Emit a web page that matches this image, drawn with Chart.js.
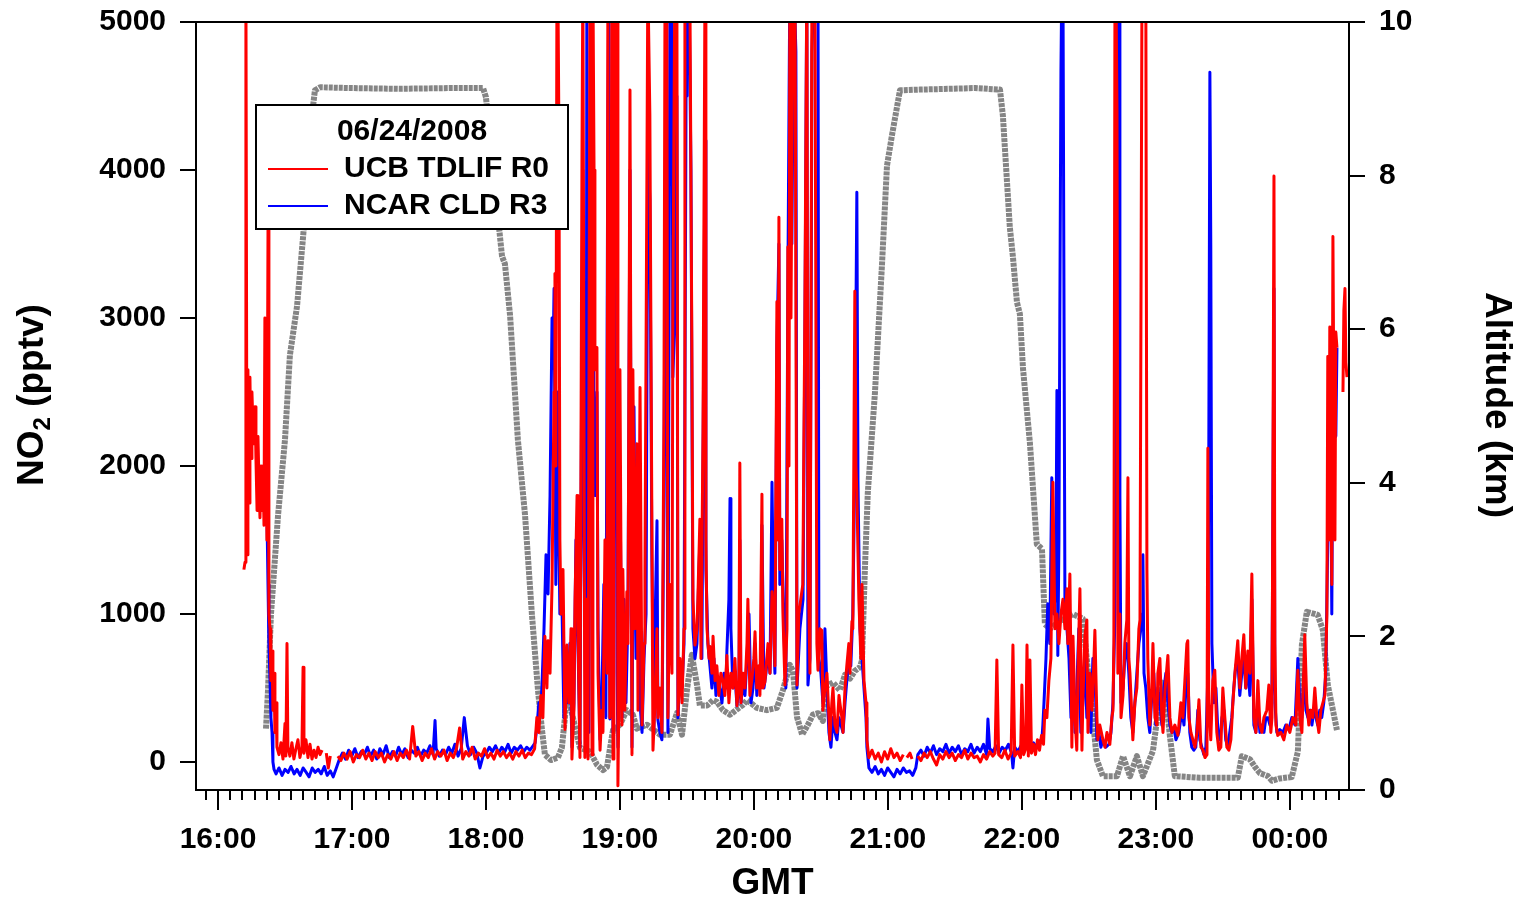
<!DOCTYPE html>
<html>
<head>
<meta charset="utf-8">
<title>NO2 and altitude, 06/24/2008</title>
<script src="https://cdn.jsdelivr.net/npm/chart.js@4.4.1/dist/chart.umd.min.js"></script>
<style>
  html, body { margin: 0; padding: 0; background: #fff; }
  #wrap { position: relative; width: 1517px; height: 902px; }
</style>
</head>
<body>
<div id="wrap"><canvas id="no2Chart" width="1517" height="902"></canvas></div>
<script>
// Time is minutes after 16:00 GMT on 06/24/2008.

// UCB TDLIF R0 NO2 (pptv); null = data gap
const ucbTime = [
  11.6, 12.1, 12.5, 13.0, 13.4, 13.9, 14.3, 14.8, 15.2, 15.7,
  16.1, 16.6, 17.0, 17.5, 17.9, 18.4, 18.8, 19.3, 19.7, 20.2,
  20.6, 21.0, 21.5, 21.9, 22.4, 22.8, 23.3, 23.7, 24.2, 24.6,
  25.1, 25.5, 26.0, 26.4, 27.3, 28.2, 29.1, 30.0, 30.4, 30.9,
  31.3, 32.2, 33.1, 34.0, 34.9, 35.8, 36.7, 37.6, 38.1, 38.5,
  39.4, 40.3, 41.2, 42.1, 43.0, 43.9, 44.8, 45.7, 46.6, 47.0,
  48.5, 49.4, 50.3, 51.0, 53.7, 55.0, 56.4, 57.8, 59.2, 60.6,
  62.0, 63.4, 64.8, 66.2, 67.6, 69.0, 70.4, 71.8, 73.2, 74.6,
  76.0, 77.4, 78.8, 80.2, 81.6, 83.0, 84.4, 85.8, 87.2, 88.6,
  90.0, 91.4, 92.8, 94.2, 95.6, 97.0, 98.4, 99.8, 101.2, 102.6,
  104.0, 105.4, 106.8, 108.2, 109.6, 111.0, 112.4, 113.8, 115.2, 116.6,
  118.0, 119.4, 120.8, 122.2, 123.6, 125.0, 126.4, 127.8, 129.2, 130.6,
  132.0, 133.4, 134.8, 136.2, 137.6, 139.0, 140.4, 141.8, 142.8, 143.7,
  144.6, 145.5, 146.4, 147.3, 147.8, 148.7, 149.6, 150.5, 150.9, 151.3,
  151.8, 152.2, 152.7, 153.1, 153.6, 154.5, 155.4, 156.3, 157.2, 158.1,
  158.5, 159.4, 159.9, 160.8, 161.2, 162.1, 163.0, 163.4, 164.3, 165.2,
  165.7, 166.6, 167.0, 167.5, 167.9, 168.4, 168.8, 169.7, 170.2, 171.1,
  171.9, 172.4, 173.3, 174.2, 174.6, 175.1, 175.5, 176.4, 176.9, 177.3,
  177.8, 178.7, 179.1, 179.6, 180.0, 180.9, 181.3, 182.2, 183.1, 183.6,
  184.5, 185.4, 185.8, 186.7, 187.6, 188.1, 189.0, 189.9, 190.8, 191.2,
  192.1, 192.5, 193.4, 194.3, 194.8, 195.7, 196.6, 197.0, 197.9, 198.8,
  199.7, 200.2, 201.0, 201.5, 202.4, 203.3, 203.7, 204.6, 205.5, 206.0,
  206.9, 207.8, 208.7, 209.1, 210.0, 210.9, 211.3, 212.2, 212.7, 213.6,
  214.5, 214.9, 215.8, 216.3, 217.2, 218.1, 218.5, 219.0, 219.9, 220.3,
  221.2, 221.7, 222.6, 223.4, 224.3, 225.2, 226.1, 227.0, 227.9, 228.8,
  229.7, 230.6, 231.5, 232.4, 233.3, 233.7, 234.2, 235.1, 236.0, 236.9,
  237.3, 238.2, 239.1, 240.0, 240.5, 241.3, 242.2, 242.7, 243.6, 244.0,
  244.9, 245.8, 246.3, 247.2, 248.1, 249.0, 249.4, 250.3, 250.7, 251.2,
  251.6, 252.5, 253.0, 253.9, 254.8, 255.2, 255.7, 256.1, 256.6, 257.5,
  258.4, 259.3, 260.1, 261.9, 262.8, 263.7, 264.2, 265.1, 266.0, 266.9,
  267.3, 268.2, 268.7, 269.6, 270.4, 270.9, 271.8, 272.7, 273.6, 274.0,
  274.9, 275.4, 276.3, 277.2, 278.1, 278.5, 279.4, 279.9, 280.8, 281.6,
  282.5, 283.0, 283.9, 284.3, 285.2, 285.7, 286.1, 287.0, 287.9, 288.4,
  289.3, 290.2, 290.6, 291.5, 292.9, 294.3, 295.7, 297.1, 298.5, 299.9,
  301.3, 302.7, 304.1, 305.5, 306.9, 307.6, 308.5, 309.9, 310.8, 311.6,
  313.4, 314.8, 316.2, 317.6, 319.0, 320.4, 321.8, 323.2, 324.6, 326.0,
  327.4, 328.8, 330.2, 331.6, 333.0, 334.4, 335.8, 337.2, 338.6, 340.0,
  341.4, 342.8, 344.2, 345.6, 347.0, 348.0, 348.8, 349.6, 351.0, 352.4,
  353.8, 355.2, 356.0, 356.8, 358.2, 359.4, 360.0, 360.8, 361.7, 362.3,
  362.9, 363.6, 364.3, 365.2, 366.1, 367.0, 367.9, 368.8, 369.7, 370.3,
  371.2, 372.1, 373.0, 373.9, 374.8, 375.7, 376.6, 377.5, 378.4, 379.3,
  380.2, 380.6, 381.5, 382.4, 382.9, 383.8, 384.6, 385.1, 386.0, 386.9,
  387.3, 388.2, 389.1, 389.6, 390.5, 391.4, 392.3, 392.7, 393.6, 394.0,
  394.9, 396.3, 397.2, 398.1, 399.4, 400.3, 400.8, 401.2, 401.7, 402.1,
  402.6, 403.0, 403.9, 404.4, 405.3, 406.1, 407.0, 407.5, 407.9, 408.4,
  409.3, 409.7, 410.6, 411.5, 412.4, 412.9, 413.8, 414.7, 415.5, 416.0,
  416.4, 417.3, 418.2, 418.7, 419.6, 420.5, 420.9, 421.8, 422.7, 423.2,
  424.1, 425.4, 426.3, 427.2, 428.5, 429.9, 431.2, 432.1, 433.0, 433.9,
  434.3, 434.8, 435.7, 436.6, 437.5, 438.4, 439.3, 440.2, 441.1, 442.0,
  442.9, 443.3, 443.7, 444.6, 445.5, 446.4, 447.3, 448.2, 449.1, 450.0,
  450.9, 451.8, 452.7, 453.6, 454.5, 455.4, 456.7, 457.6, 458.5, 459.4,
  460.3, 461.2, 462.1, 463.0, 463.9, 464.8, 465.7, 466.6, 467.5, 468.4,
  469.7, 470.6, 471.5, 472.0, 472.4, 472.9, 473.3, 473.8, 474.6, 476.0,
  477.3, 478.7, 480.0, 481.4, 482.7, 483.6, 484.5, 485.4, 486.7, 487.6,
  488.5, 489.4, 490.3, 491.2, 492.1, 493.0, 493.9, 494.8, 495.7, 496.6,
  497.0, 497.5, 497.9, 498.4, 498.8, 499.3, 499.7, 500.2, 500.6, 501.1,
  501.5, 503.8, 504.2, 504.7, 505.1, 505.6
];
const ucbNO2 = [
  1300, 1350, 5300, 1400, 2650, 1750, 2600, 2050, 2500, 2250,
  2150, 2400, 2050, 1700, 2200, 1850, 1650, 2000, 1700, 1950,
  1600, 3000, 2500, 1500, 3600, 1000, 900, 550, 750, 350,
  600, 200, 400, 100, 50, 130, 20, 260, 40, 800,
  100, 40, 130, 20, 90, 150, 30, 100, 640, 60,
  150, 30, 120, 20, 80, 30, 100, 50, 80, null,
  60, -40, 40, null, 40, 10, 60, 20, 70, 0,
  50, 30, 80, 20, 60, 10, 70, 30, 60, 0,
  50, 20, 70, 10, 60, 30, 80, 20, 240, 40,
  70, 10, 60, 30, 90, 20, 70, 40, 80, 10,
  60, 30, 90, 230, 20, 70, 40, 100, 20, 60,
  40, 90, 30, 60, 20, 80, 40, 70, 30, 60,
  20, 70, 40, 80, 30, 60, 50, 90, 300, 200,
  450, 300, 850, 500, 820, 600, 1200, 2500, 3300, 2000,
  5300, 5300, 4200, 1500, 1000, 1300, 220, 790, 400, 900,
  20, 350, 1100, 1800, 900, 30, 4100, 5300, 30, 1100,
  20, 5300, 3000, 50, 5300, 4000, 2650, 2800, 600, 80,
  350, 200, 1500, 600, 5300, 1500, 300, 5300, 20, 2000,
  5300, 5300, -160, 500, 2650, 250, 1300, 350, 1150, 800,
  4540, 50, 2650, 900, 2150, 350, 2530, 250, 800, 1270,
  4030, 5300, 4370, 1640, 80, 400, 900, 300, 500, 200,
  2290, 5300, 5300, 300, 1200, 600, 3000, 5300, 5300, 320,
  700, 400, 900, 5300, 5300, 5300, 5300, 2860, 1100, 790,
  900, 1100, 1640, 700, 2220, 5300, 1500, 900, 700, 780,
  600, 850, 550, 650, 450, 600, 550, 450, 720, 400,
  600, 500, 700, 380, 550, 2020, 400, 600, 500, 800,
  1100, 450, 560, 700, 880, 500, 650, 450, 1810, 500,
  540, 700, 800, 600, 1150, 900, 650, 3110, 1500, 3680,
  1300, 1640, 1000, 520, 900, 3480, 2000, 5300, 3000, 5300,
  5300, 520, 1000, 1200, 3000, 5300, 1440, 600, 5300, 5300,
  5300, 800, 620, 900, 890, 350, 500, 600, 300, 150,
  400, 500, 250, 200, 450, 400, 300, 200, 500, 650,
  800, 600, 950, 900, 3180, 2000, 1820, 1100, 700, 1200,
  550, 400, 150, 30, 80, 20, 60, 0, 70, 20,
  90, 30, 60, 10, 50, null, 30, 60, 20, null,
  40, 10, 60, 30, 70, 20, -20, 50, 20, 70,
  30, 60, 10, 50, 30, 80, 20, 60, 30, 40,
  0, 50, 20, 70, 40, 60, 690, 50, 30, 80,
  20, 60, 790, 40, 70, 30, 520, 50, 90, 790,
  40, 690, 60, 120, 50, 150, 80, 180, 120, 350,
  300, 550, 700, 1890, 900, 1000, 800, 1000, 1100, 900,
  1170, 800, 1270, 100, 850, 300, 80, 600, 1170, 80,
  400, 850, 960, 200, 600, 350, 700, 890, 300, 150,
  250, 150, 100, 200, 120, 300, 350, 800, 5300, 5300,
  4400, 600, 1000, 300, 450, 800, 960, 1920, 700, 600,
  300, 150, 400, 500, 900, 960, 5300, 5300, 5300, 1300,
  700, 250, 500, 800, 300, 250, 600, 700, 300, 200,
  490, 720, 300, 200, 250, 180, 400, 300, 550, 800,
  820, 300, 200, 150, 100, 200, 420, 100, 80, 30,
  50, 2120, 400, 150, 550, 620, 200, 80, 100, 500,
  300, 100, 80, 150, 400, 600, 820, 500, 700, 860,
  500, 750, 600, 1270, 300, 200, 550, 250, 200, 300,
  350, 520, 200, 300, 1800, 3960, 800, 250, 180, 200,
  150, 250, 200, 300, 250, 620, 300, 200, 860, 400,
  250, 350, 300, 500, 300, 200, 350, 400, 450, 1000,
  2740, 1500, 2940, 2000, 1200, 3550, 2500, 1500, 2905, 2800,
  null, 2500, 3050, 3200, 2700, 2600
];

// NCAR CLD R3 NO2 (pptv)
const ncarTime = [
  21.9, 22.4, 22.8, 23.3, 23.7, 24.2, 24.6, 25.1, 26.0, 27.3,
  28.7, 30.0, 31.4, 32.7, 34.1, 35.4, 36.8, 38.1, 39.5, 40.8,
  42.2, 43.5, 44.9, 46.2, 47.6, 48.9, 50.3, 51.6, 53.0, 54.4,
  55.7, 57.1, 58.5, 59.9, 61.3, 62.7, 64.1, 65.5, 66.9, 68.3,
  69.7, 71.1, 72.5, 73.9, 75.3, 76.7, 78.1, 79.5, 80.9, 82.3,
  83.7, 85.1, 86.5, 87.9, 89.3, 90.7, 92.1, 93.5, 94.9, 96.3,
  97.2, 97.7, 99.1, 100.5, 101.9, 103.3, 104.7, 106.1, 107.5, 108.9,
  110.3, 111.7, 113.1, 114.5, 115.9, 117.3, 118.7, 120.1, 121.5, 122.9,
  124.3, 125.7, 127.1, 128.5, 129.9, 131.3, 132.7, 134.1, 135.5, 136.9,
  138.3, 139.7, 141.1, 142.0, 142.9, 143.7, 144.6, 145.1, 146.0, 146.9,
  147.8, 148.7, 149.6, 150.0, 150.5, 150.9, 151.3, 152.2, 152.7, 153.1,
  154.0, 154.9, 155.8, 156.7, 157.6, 158.5, 159.4, 160.3, 161.2, 162.1,
  163.0, 163.4, 163.9, 164.8, 165.2, 165.7, 166.1, 166.6, 167.5, 167.9,
  168.4, 168.8, 169.7, 170.2, 171.1, 171.9, 172.8, 173.7, 174.6, 175.1,
  175.5, 176.4, 176.9, 177.8, 178.2, 178.7, 179.1, 180.0, 180.9, 181.8,
  182.7, 183.6, 184.5, 185.4, 186.3, 187.2, 188.1, 189.0, 189.9, 190.8,
  191.7, 192.5, 193.4, 194.3, 195.2, 195.7, 196.6, 197.0, 197.9, 198.8,
  199.7, 200.6, 201.5, 202.4, 203.3, 203.7, 204.6, 205.5, 206.0, 206.9,
  207.8, 208.7, 209.6, 210.0, 210.9, 211.8, 212.2, 212.7, 213.6, 214.5,
  215.4, 215.8, 216.7, 217.2, 218.1, 218.5, 219.4, 220.3, 221.2, 222.1,
  223.0, 223.9, 224.8, 225.7, 226.6, 227.5, 227.9, 228.8, 229.3, 229.7,
  230.6, 231.5, 232.4, 233.3, 233.7, 234.2, 235.1, 236.0, 236.9, 237.8,
  238.7, 239.6, 240.5, 241.3, 242.2, 243.1, 243.6, 244.5, 245.4, 246.3,
  247.2, 248.1, 249.0, 249.4, 250.3, 251.2, 251.6, 252.5, 253.4, 254.3,
  255.2, 256.1, 257.0, 257.9, 258.8, 259.3, 260.6, 262.0, 262.8, 263.7,
  264.2, 265.1, 266.0, 266.9, 267.8, 268.7, 269.1, 270.0, 270.9, 271.8,
  272.7, 273.6, 274.5, 275.4, 276.3, 277.2, 278.1, 279.0, 279.9, 280.8,
  281.6, 282.5, 283.4, 284.3, 285.2, 286.1, 286.6, 287.5, 288.4, 289.3,
  290.2, 290.6, 291.5, 292.9, 294.3, 295.7, 297.1, 298.5, 299.9, 301.3,
  302.7, 304.1, 305.5, 306.9, 308.3, 309.7, 311.1, 312.5, 313.4, 314.8,
  316.2, 317.6, 319.0, 320.4, 321.8, 323.2, 324.6, 326.0, 327.4, 328.8,
  330.2, 331.6, 333.0, 334.4, 335.8, 337.2, 338.6, 340.0, 341.4, 342.8,
  344.2, 344.8, 345.6, 347.0, 348.4, 349.8, 351.2, 352.6, 354.0, 355.4,
  356.0, 356.8, 358.2, 359.6, 361.0, 362.4, 363.8, 365.2, 366.6, 368.0,
  369.0, 369.4, 369.9, 370.8, 371.6, 372.5, 373.4, 374.3, 375.2, 375.7,
  376.1, 376.6, 377.0, 377.5, 377.9, 378.4, 378.8, 379.3, 380.2, 381.1,
  382.0, 382.9, 383.8, 384.6, 385.5, 386.4, 387.3, 388.2, 389.1, 390.0,
  390.9, 391.8, 392.7, 393.6, 394.5, 395.4, 396.3, 397.6, 399.0, 399.9,
  400.8, 401.7, 402.1, 402.6, 403.0, 403.5, 403.9, 404.4, 405.3, 406.1,
  407.0, 407.9, 408.8, 409.7, 410.6, 411.5, 412.4, 413.3, 413.8, 414.2,
  414.7, 415.5, 416.4, 417.3, 418.2, 419.1, 420.0, 420.9, 421.8, 422.7,
  423.6, 424.5, 425.4, 426.3, 427.2, 428.1, 429.0, 430.3, 431.7, 432.6,
  433.5, 434.3, 435.2, 436.1, 437.0, 437.9, 438.8, 439.7, 440.6, 441.5,
  442.4, 443.3, 443.7, 444.2, 444.6, 445.1, 446.0, 446.9, 447.8, 448.7,
  449.6, 450.5, 451.3, 452.2, 453.1, 454.0, 454.9, 455.8, 456.7, 457.6,
  458.5, 459.4, 460.3, 461.2, 462.1, 463.0, 463.9, 464.8, 465.7, 466.6,
  467.5, 468.4, 469.3, 470.2, 471.1, 472.0, 472.4, 472.9, 473.3, 474.2,
  475.5, 476.9, 478.2, 479.6, 480.9, 482.3, 483.6, 484.5, 485.4, 486.3,
  487.2, 488.1, 489.0, 489.9, 490.8, 491.7, 492.5, 493.4, 494.3, 495.2,
  496.1, 497.0, 497.5, 497.9, 498.4, 498.8, 499.3, 499.7, 500.2, 500.6,
  501.1
];
const ncarNO2 = [
  1700, 1200, 800, 550, 300, 200, 0, -50, -80, -40,
  -90, -50, -70, -30, -80, -50, -90, -40, -70, -100,
  -40, -70, -50, -80, -30, -90, -60, -100, -40, 20,
  60, 20, 80, 40, 90, 30, 70, 50, 100, 40,
  80, 20, 90, 50, 110, 30, 70, 40, 100, 50,
  90, 30, 80, 60, 100, 40, 80, 60, 110, 50,
  280, 90, 40, 80, 50, 100, 60, 120, 40, 90,
  300, 110, 50, 100, 60, -40, 40, 60, 100, 70,
  110, 60, 100, 70, 120, 60, 100, 80, 110, 70,
  100, 80, 110, 130, 250, 400, 350, 520, 900, 1400,
  1135, 1800, 3000, 2660, 3200, 2270, 1200, 2500, 1500, 1000,
  1100, 300, 700, 400, 800, 100, 400, 1500, 800, 100,
  3000, 4000, 1500, 100, 5300, 1000, 200, 3400, 3280, 4500,
  2000, 1800, 2500, 900, 150, 400, 1200, 300, 4430, 5300,
  290, 4000, 200, 5300, 3000, 600, 100, 2000, 300, 1100,
  400, 1000, 4000, 100, 2400, 700, 1800, 400, 200, 700,
  1000, 4200, 3800, 1400, 200, 900, 1630, 285, 200, 150,
  1800, 4800, 200, 5300, 5300, 2600, 3000, 4500, 300, 600,
  500, 800, 4500, 5300, 5300, 4000, 2600, 900, 700, 800,
  1300, 1500, 700, 2000, 4200, 1300, 800, 650, 500, 700,
  450, 550, 490, 400, 600, 500, 750, 1100, 1780, 900,
  500, 600, 380, 500, 1500, 400, 550, 450, 700, 1000,
  400, 500, 800, 450, 600, 500, 1600, 500, 600, 750,
  600, 1890, 800, 600, 2800, 3500, 1200, 1500, 900, 500,
  3200, 5300, 3500, 5300, 4800, 500, 900, 1100, 2800, 5300,
  520, 700, 4800, 5300, 5300, 5300, 700, 600, 400, 900,
  500, 200, 100, 300, 200, 150, 300, 250, 200, 400,
  550, 700, 650, 1000, 2000, 3850, 1900, 900, 700, 500,
  300, 100, -40, -70, -30, -80, -50, -90, -40, -70,
  -100, -50, -80, -40, -70, -60, -90, -40, 50, 80,
  40, 100, 60, 110, 50, 90, 70, 120, 60, 100,
  70, 110, 50, 90, 70, 120, 60, 100, 70, 120,
  50, 290, 90, 70, 110, 60, 100, 80, 120, 60,
  -40, 100, 70, 110, 80, 120, 90, 130, 100, 140,
  160, 250, 400, 700, 1070, 800, 1920, 1000, 1200, 2510,
  720, 1500, 3000, 4660, 5300, 5300, 3400, 1000, 900, 700,
  300, 600, 200, 500, 900, 200, 400, 700, 300, 500,
  200, 700, 600, 150, 200, 100, 150, 100, 120, 200,
  400, 1000, 2000, 5300, 5300, 5300, 1800, 400, 500, 700,
  800, 600, 300, 200, 400, 600, 800, 900, 1000, 1400,
  600, 500, 300, 200, 450, 600, 250, 500, 400, 250,
  500, 600, 400, 250, 200, 230, 150, 200, 350, 250,
  500, 600, 200, 100, 80, 100, 350, 150, 100, 50,
  100, 600, 2000, 4660, 3500, 800, 400, 500, 200, 150,
  300, 350, 150, 100, 200, 300, 500, 650, 700, 450,
  600, 700, 500, 650, 450, 1100, 250, 200, 400, 200,
  250, 200, 300, 300, 250, 500, 1600, 3200, 400, 200,
  220, 200, 250, 220, 300, 250, 700, 400, 300, 600,
  350, 300, 350, 250, 350, 300, 250, 350, 300, 400,
  600, 1500, 2400, 2700, 1800, 1000, 2500, 1700, 2400, 2200,
  2800
];

// Aircraft altitude (km)
const altTime = [
  21.5, 22.4, 23.7, 26.9, 30.0, 32.2, 35.4, 38.1, 40.3, 42.1,
  43.4, 45.7, 59.1, 81.5, 103.9, 118.7, 120.0, 126.3, 127.2, 128.5,
  130.8, 134.3, 137.5, 140.6, 143.3, 145.1, 146.4, 149.1, 152.2, 154.0,
  155.4, 156.3, 158.5, 162.1, 166.6, 169.7, 172.4, 174.2, 176.9, 180.0,
  183.1, 185.8, 187.6, 192.1, 197.9, 202.4, 205.5, 207.8, 210.0, 212.2,
  214.5, 215.8, 219.0, 221.7, 223.4, 226.1, 229.3, 232.4, 235.1, 236.9,
  239.6, 241.3, 245.8, 250.3, 253.0, 256.1, 257.5, 259.3, 261.6, 264.2,
  266.4, 268.7, 270.9, 272.3, 275.4, 278.5, 280.8, 283.0, 285.2, 287.5,
  288.4, 289.7, 291.0, 294.2, 297.3, 299.6, 301.8, 305.4, 314.3, 327.8,
  339.0, 350.2, 351.5, 354.6, 356.0, 357.8, 359.1, 360.5, 363.6, 366.7,
  369.0, 370.3, 372.6, 377.0, 382.9, 387.3, 389.1, 391.4, 393.6, 396.3,
  402.6, 405.3, 408.4, 411.5, 414.2, 418.7, 420.9, 422.7, 424.5, 426.3,
  428.5, 439.7, 456.7, 458.5, 462.1, 464.4, 466.6, 470.2, 472.0, 475.5,
  480.9, 483.6, 485.4, 487.6, 492.5, 494.8, 497.0, 501.1
];
const altKm = [
  0.80, 1.3, 2.28, 3.58, 4.56, 5.66, 6.3, 7.2, 8.0, 8.79,
  9.11, 9.15, 9.14, 9.13, 9.14, 9.14, 9.02, 7.2, 6.95, 6.85,
  6.18, 4.56, 3.58, 2.28, 1.30, 0.78, 0.46, 0.39, 0.42, 0.55,
  0.95, 1.3, 1.0, 0.55, 0.5, 0.33, 0.26, 0.3, 0.78, 0.85,
  1.04, 0.98, 0.8, 0.85, 0.72, 0.72, 1.0, 0.72, 1.3, 1.76,
  1.37, 1.1, 1.1, 1.17, 1.15, 1.04, 0.98, 1.05, 1.11, 1.17,
  1.11, 1.07, 1.04, 1.07, 1.3, 1.63, 1.55, 0.95, 0.72, 0.85,
  0.98, 1.0, 0.9, 1.35, 1.4, 1.3, 1.5, 1.45, 1.55, 1.6,
  1.69, 2.88, 3.87, 5.17, 6.81, 8.13, 8.52, 9.11, 9.12, 9.13,
  9.14, 9.12, 8.78, 7.33, 6.94, 6.35, 6.2, 5.49, 4.52, 3.2,
  3.14, 2.16, 2.1, 2.2, 2.29, 2.23, 1.7, 1.04, 0.39, 0.18,
  0.18, 0.44, 0.18, 0.44, 0.18, 0.51, 1.0, 1.4, 1.2, 0.7,
  0.18, 0.16, 0.16, 0.44, 0.4, 0.3, 0.22, 0.18, 0.12, 0.15,
  0.17, 0.5, 1.89, 2.32, 2.28, 2.08, 1.37, 0.78
];

// axes
const hourTicks = [0, 60, 120, 180, 240, 300, 360, 420, 480];
const hourLabels = ["16:00", "17:00", "18:00", "19:00", "20:00", "21:00", "22:00", "23:00", "00:00"];
const no2Ticks = [0, 1000, 2000, 3000, 4000, 5000];
const altTicks = [0, 2, 4, 6, 8, 10];
const flightDate = "06/24/2008";

const FONT = '"Liberation Sans", Arial, Helvetica, sans-serif';
const MINOR_PER_HOUR = 11; // minor tick spacing used on the time axis

function pairUp(times, values) {
  return times.map((t, i) => ({ x: t, y: values[i] === undefined ? null : values[i] }));
}

// keep the plot box fixed: no extra room asked for by overhanging labels
function noOverhang(s) {
  s.paddingTop = 0;
  s.paddingBottom = 0;
  s.paddingLeft = 0;
  s.paddingRight = 0;
}

const decorations = {
  id: "decorations",
  afterDatasetsDraw(chart) {
    // Legend box inside the plot, drawn over the traces
    const { ctx, chartArea: a } = chart;
    const bx = a.left + 60, by = a.top + 83, bw = 312, bh = 124;
    ctx.save();
    ctx.fillStyle = "#fff";
    ctx.fillRect(bx, by, bw, bh);
    ctx.strokeStyle = "#000";
    ctx.lineWidth = 2;
    ctx.strokeRect(bx, by, bw, bh);
    ctx.fillStyle = "#000";
    ctx.textBaseline = "middle";
    ctx.font = "bold 30px " + FONT;
    ctx.textAlign = "center";
    ctx.fillText(flightDate, bx + bw / 2, by + 27);
    ctx.textAlign = "left";
    const entries = [chart.data.datasets[0], chart.data.datasets[1]];
    entries.forEach((ds, i) => {
      const y = by + 64 + i * 37;
      ctx.strokeStyle = ds.borderColor;
      ctx.lineWidth = 2;
      ctx.beginPath();
      ctx.moveTo(bx + 12, y);
      ctx.lineTo(bx + 72, y);
      ctx.stroke();
      ctx.fillText(ds.label, bx + 88, y);
    });
    ctx.restore();
  },
  afterDraw(chart) {
    const { ctx, chartArea: a, scales } = chart;
    ctx.save();
    ctx.strokeStyle = "#000";
    ctx.lineWidth = 2;
    ctx.strokeRect(a.left, a.top, a.right - a.left, a.bottom - a.top);

    // time axis: long ticks on the hour, short ticks between
    const xs = scales.x;
    const step = 60 / MINOR_PER_HOUR;
    for (let k = Math.ceil(xs.min / step); k * step <= xs.max; k++) {
      const px = Math.round(xs.getPixelForValue(k * step));
      const len = k % MINOR_PER_HOUR === 0 ? 20 : 10;
      ctx.beginPath();
      ctx.moveTo(px, a.bottom);
      ctx.lineTo(px, a.bottom + len);
      ctx.stroke();
    }

    // axis titles
    ctx.fillStyle = "#000";
    ctx.textBaseline = "middle";
    ctx.textAlign = "center";
    ctx.font = "bold 37px " + FONT;
    ctx.fillText("GMT", (a.left + a.right) / 2, 884);

    // left title with subscript
    ctx.save();
    ctx.translate(33, 395);
    ctx.rotate(-Math.PI / 2);
    const big = "bold 37px " + FONT, small = "bold 24px " + FONT;
    ctx.font = big;
    const w1 = ctx.measureText("NO").width;
    const w3 = ctx.measureText(" (pptv)").width;
    ctx.font = small;
    const w2 = ctx.measureText("2").width;
    const x0 = -(w1 + w2 + w3) / 2;
    ctx.textAlign = "left";
    ctx.font = big;
    ctx.fillText("NO", x0, 0);
    ctx.font = small;
    ctx.fillText("2", x0 + w1, 10);
    ctx.font = big;
    ctx.fillText(" (pptv)", x0 + w1 + w2, 0);
    ctx.restore();

    ctx.save();
    ctx.translate(1496, 405);
    ctx.rotate(Math.PI / 2);
    ctx.textAlign = "center";
    ctx.font = "bold 37px " + FONT;
    ctx.fillText("Altitude (km)", 0, 0);
    ctx.restore();

    ctx.restore();
  }
};

const tickFont = { family: FONT, size: 30, weight: "bold" };

new Chart(document.getElementById("no2Chart"), {
  type: "line",
  data: {
    datasets: [
      {
        label: "UCB TDLIF R0",
        data: pairUp(ucbTime, ucbNO2),
        borderColor: "#ff0000",
        borderWidth: 3,
        yAxisID: "y",
        order: 0,
      },
      {
        label: "NCAR CLD R3",
        data: pairUp(ncarTime, ncarNO2),
        borderColor: "#0000ff",
        borderWidth: 3,
        yAxisID: "y",
        order: 1,
      },
      {
        label: "Altitude",
        data: pairUp(altTime, altKm),
        borderColor: "#858585",
        borderWidth: 6,
        borderDash: [4, 1],
        yAxisID: "y2",
        order: 2,
      },
    ],
  },
  options: {
    responsive: false,
    animation: false,
    devicePixelRatio: 1,
    spanGaps: false,
    layout: { padding: { top: 22, right: 0, bottom: 0, left: 0 } },
    elements: {
      point: { radius: 0, hoverRadius: 0 },
      line: { tension: 0, borderJoinStyle: "round", fill: false },
    },
    plugins: {
      legend: { display: false },
      tooltip: { enabled: false },
    },
    scales: {
      x: {
        type: "linear",
        min: -9.85,
        max: 506.5,
        grid: { display: false, drawTicks: false },
        border: { display: true, color: "#000", width: 2 },
        ticks: {
          autoSkip: false,
          maxRotation: 0,
          padding: 32,
          color: "#000",
          font: tickFont,
          callback: (v) => {
            const i = hourTicks.indexOf(v);
            return i >= 0 ? hourLabels[i] : "";
          },
        },
        afterBuildTicks: (s) => { s.ticks = hourTicks.map((v) => ({ value: v })); },
        afterFit: (s) => { s.height = 112; noOverhang(s); },
      },
      y: {
        position: "left",
        min: -189,
        max: 5000,
        grid: { drawOnChartArea: false, drawTicks: true, tickLength: 16, color: "#000", lineWidth: 2 },
        border: { display: true, color: "#000", width: 2 },
        ticks: { padding: 14, color: "#000", font: tickFont, callback: (v) => String(v) },
        afterBuildTicks: (s) => { s.ticks = no2Ticks.map((v) => ({ value: v })); },
        afterFit: (s) => { s.width = 196; noOverhang(s); },
      },
      y2: {
        position: "right",
        min: 0,
        max: 10,
        grid: { drawOnChartArea: false, drawTicks: true, tickLength: 16, color: "#000", lineWidth: 2 },
        border: { display: true, color: "#000", width: 2 },
        ticks: { padding: 14, color: "#000", font: tickFont, callback: (v) => String(v) },
        afterBuildTicks: (s) => { s.ticks = altTicks.map((v) => ({ value: v })); },
        afterFit: (s) => { s.width = 168; noOverhang(s); },
      },
    },
  },
  plugins: [decorations],
});
</script>
</body>
</html>
